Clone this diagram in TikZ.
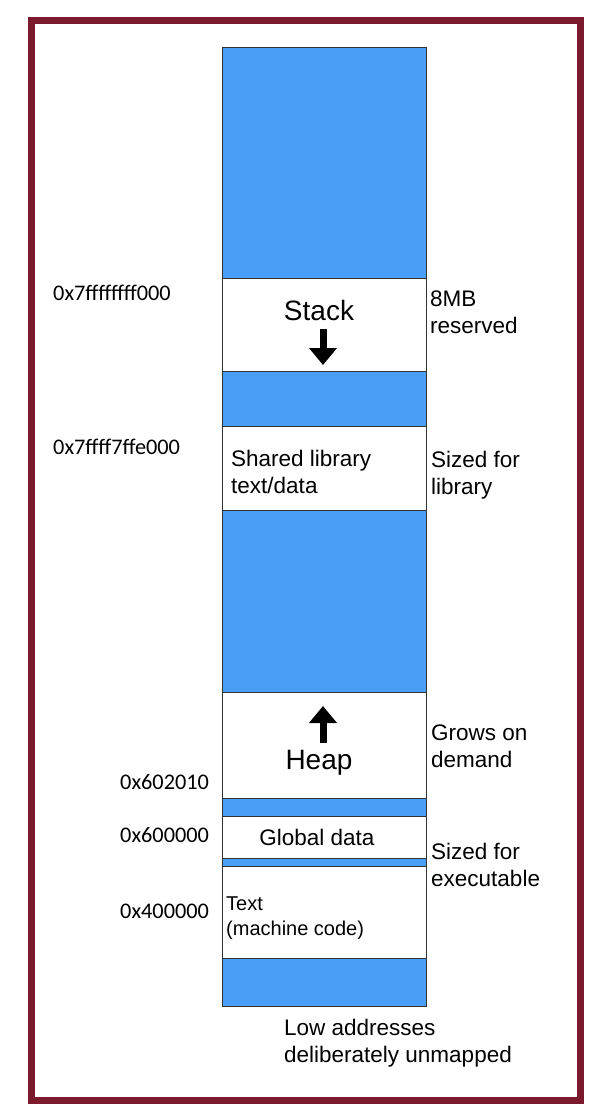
\documentclass[tikz,border=0pt]{standalone}
\usepackage{fontspec}
\setmainfont{Liberation Sans}
\newfontfamily\addrfont{Carlito}
\usetikzlibrary{arrows.meta}

\definecolor{framered}{HTML}{7A1A2C}
\definecolor{segblue}{HTML}{4A9EF6}

\tikzset{
  segment/.style={draw=black!80, line width=0.9pt},
  bigtext/.style={font=\fontsize{28}{32}\selectfont, anchor=base},
  sidetext/.style={font=\fontsize{22.5}{27}\selectfont, align=left, anchor=base west, inner sep=0pt},
  addrtext/.style={font=\addrfont\fontsize{22.3}{26}\selectfont, anchor=base west, inner sep=0pt},
  blockarrow/.style={line width=7pt, -{Triangle[width=27pt,length=17pt]}}
}

\begin{document}
\begin{tikzpicture}[x=1pt,y=-1pt]
  \useasboundingbox (0,0) rectangle (614,1120);

  % Frame
  \draw[framered, line width=7pt] (31.5,20.5) rectangle (580.5,1100.5);

  % Segments of the address space, top to bottom
  \foreach \top/\bot/\col in {47/278/segblue, 278/371/white, 371/426/segblue,
      426/510/white, 510/692/segblue, 692/798/white, 798/816/segblue,
      816/858/white, 858/866/segblue, 866/958/white, 958/1006/segblue}
    \draw[segment, fill=\col] (222,\top) rectangle (426,\bot);

  % Texts inside the column (two-line nodes sit on their last baseline)
  \node[bigtext] (stack) at (319,320) {Stack};
  \node[bigtext] (heap) at (319,769) {Heap};
  \node[sidetext, anchor=base] (global) at (317,845) {Global data};
  \node[sidetext] (shared) at (231,493) {Shared library\\text/data};
  \node[sidetext, font=\fontsize{20}{25}\selectfont] (text) at (226,935) {Text\\(machine code)};

  % Growth arrows
  \coordinate (stacktail) at (323,329);
  \coordinate (stacktip) at (323,365);
  \coordinate (heaptail) at (323,743);
  \coordinate (heaptip) at (323,706);
  \draw[blockarrow] (stacktail) -- (stacktip);
  \draw[blockarrow] (heaptail) -- (heaptip);

  % Notes on the right
  \node[sidetext] (reserved) at (430,333) {8MB\\reserved};
  \node[sidetext] (sizedlib) at (431,494) {Sized for\\library};
  \node[sidetext] (grows) at (431,767) {Grows on\\demand};
  \node[sidetext] (sizedexe) at (431,886) {Sized for\\executable};
  \node[sidetext] (unmapped) at (284,1062) {Low addresses\\deliberately unmapped};

  % Addresses on the left
  \foreach \name/\y/\x/\addr in {stacktop/300/53/0x7ffffffff000, libtop/454/53/0x7ffff7ffe000,
      brk/789/120/0x602010, datatop/842/120/0x600000, texttop/918/120/0x400000}
    \node[addrtext] (\name) at (\x,\y) {\addr};
\end{tikzpicture}
\end{document}
